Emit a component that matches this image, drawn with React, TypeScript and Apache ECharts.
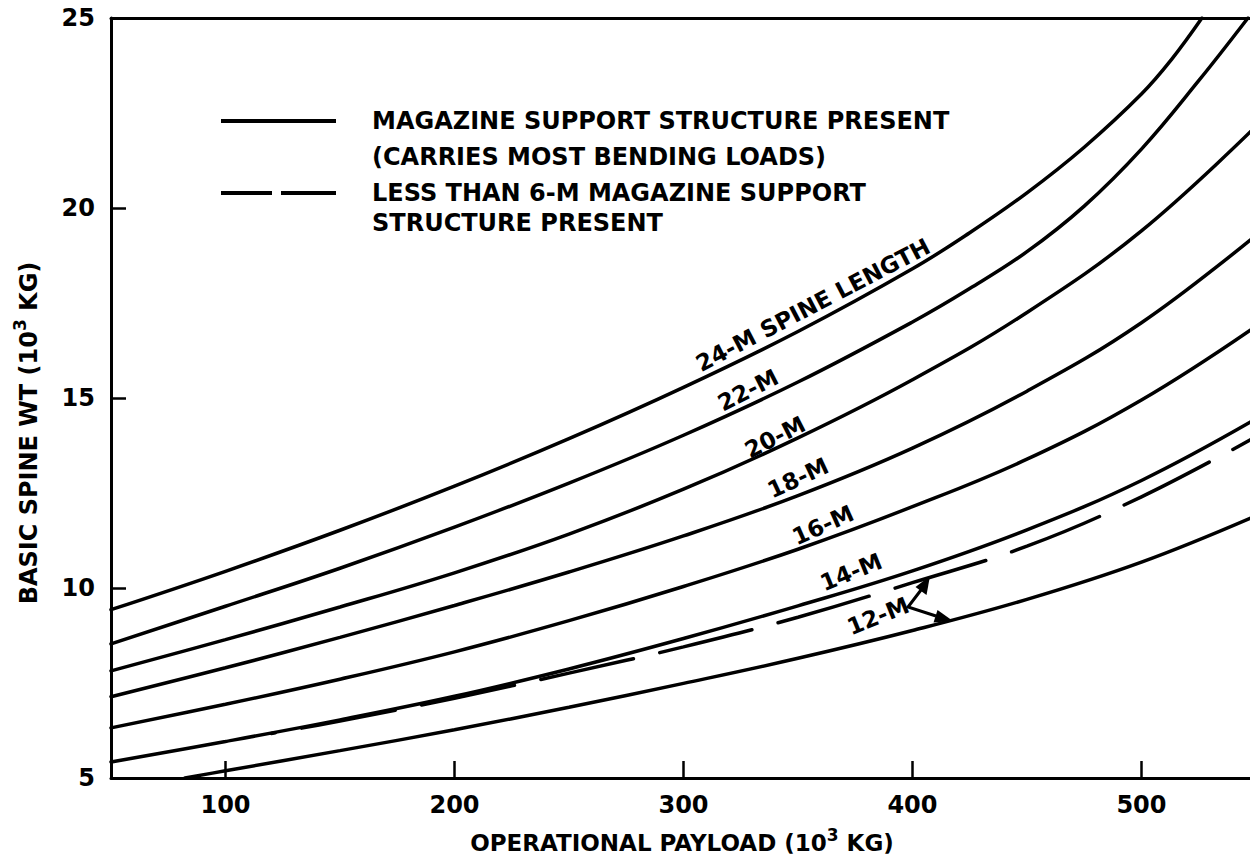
import React, { useEffect, useRef } from "react";
import * as echarts from "echarts";

// Axis ticks
const xTicks = [100, 200, 300, 400, 500];

// Curves: [operational payload (10^3 kg), basic spine wt (10^3 kg)]
const spine24 = [[50, 9.43], [100, 10.44], [150, 11.52], [200, 12.68], [250, 13.93], [300, 15.28], [350, 16.75], [400, 18.4], [425, 19.35], [450, 20.4], [475, 21.6], [500, 23.0], [513, 23.9], [526.4, 25]];
const spine22 = [[50, 8.53], [100, 9.52], [150, 10.52], [200, 11.6], [250, 12.76], [300, 14.02], [350, 15.42], [400, 17.0], [425, 17.88], [450, 18.85], [475, 20.05], [500, 21.55], [525, 23.35], [546.5, 25]];
const spine20 = [[50, 7.82], [100, 8.64], [150, 9.5], [200, 10.4], [250, 11.42], [300, 12.6], [350, 13.95], [400, 15.48], [450, 17.25], [500, 19.4], [550, 22.15]];
const spine18 = [[50, 7.14], [100, 7.9], [150, 8.7], [200, 9.54], [250, 10.42], [300, 11.37], [350, 12.43], [400, 13.68], [450, 15.18], [500, 16.98], [550, 19.28]];
const spine16 = [[50, 6.32], [100, 6.94], [150, 7.6], [200, 8.32], [250, 9.14], [300, 10.04], [350, 11.02], [400, 12.14], [450, 13.39], [500, 14.95], [550, 16.89]];
const spine14 = [[50, 5.42], [100, 5.96], [150, 6.53], [200, 7.15], [250, 7.87], [300, 8.67], [350, 9.53], [400, 10.45], [450, 11.53], [500, 12.83], [550, 14.45]];
const spine12 = [[82.3, 5.0], [100, 5.19], [150, 5.72], [200, 6.27], [250, 6.86], [300, 7.49], [350, 8.15], [400, 8.88], [450, 9.7], [500, 10.68], [550, 11.9]];
const spine12Partial = [[120, 6.17], [150, 6.5], [200, 7.1], [250, 7.76], [300, 8.45], [350, 9.23], [400, 10.14], [450, 11.1], [500, 12.4], [550, 13.98]];

const FONT = '"DejaVu Sans", sans-serif';

function lineSeries(name: string, data: number[][], dashed = false) {
  return {
    name,
    type: "line",
    data,
    smooth: 0.4,
    symbol: "none",
    clip: true,
    silent: true,
    lineStyle: {
      color: "#000",
      width: 3.5,
      type: dashed ? [95, 27] : "solid",
      dashOffset: dashed ? 91 : 0,
      cap: "round",
    },
  };
}

function txt(text: string, x: number, y: number, size: number, angleDeg = 0, align = "center", rich?: any) {
  return {
    type: "text",
    x,
    y,
    rotation: (angleDeg * Math.PI) / 180,
    silent: true,
    style: {
      text,
      fill: "#000",
      fontSize: size,
      fontFamily: FONT,
      fontWeight: "bold",
      align,
      textAlign: align,
      verticalAlign: "middle",
      textVerticalAlign: "middle",
      rich,
    },
  };
}

export default function App() {
  const ref = useRef<HTMLDivElement>(null);

  useEffect(() => {
    if (!ref.current) return;
    const chart = echarts.init(ref.current, null, { renderer: "svg" });

    const axisLine = { show: true, onZero: false, lineStyle: { color: "#000", width: 3 } };
    const supRichX = {
      n: { fontSize: 23, fontFamily: FONT, fontWeight: "bold", lineHeight: 28, verticalAlign: "bottom" },
      s: { fontSize: 17, fontFamily: FONT, fontWeight: "bold", lineHeight: 17, verticalAlign: "top" },
    };
    const supRichY = {
      n: { fontSize: 24, fontFamily: FONT, fontWeight: "bold", lineHeight: 30, verticalAlign: "bottom" },
      s: { fontSize: 17, fontFamily: FONT, fontWeight: "bold", lineHeight: 17, verticalAlign: "top" },
    };

    const option: any = {
      animation: false,
      backgroundColor: "#fff",
      grid: { left: 111, right: 0, top: 18, bottom: 79, containLabel: false },
      xAxis: [
        {
          type: "value",
          min: 50,
          max: 547.4,
          axisLine,
          axisTick: { show: true, inside: true, length: 17, customValues: xTicks, lineStyle: { color: "#000", width: 2.5 } },
          axisLabel: { customValues: xTicks, margin: 15, color: "#000", fontSize: 24, fontFamily: FONT, fontWeight: "bold" },
          splitLine: { show: false },
        },
        {
          type: "value",
          position: "top",
          min: 50,
          max: 547.4,
          axisLine,
          axisTick: { show: false },
          axisLabel: { show: false },
          splitLine: { show: false },
        },
      ],
      yAxis: {
        type: "value",
        min: 5,
        max: 25,
        interval: 5,
        axisLine,
        axisTick: { show: true, inside: true, length: 15, lineStyle: { color: "#000", width: 2.5 } },
        axisLabel: { margin: 16, color: "#000", fontSize: 24, fontFamily: FONT, fontWeight: "bold" },
        splitLine: { show: false },
      },
      series: [
        lineSeries("24-M", spine24),
        lineSeries("22-M", spine22),
        lineSeries("20-M", spine20),
        lineSeries("18-M", spine18),
        lineSeries("16-M", spine16),
        lineSeries("14-M", spine14),
        lineSeries("12-M", spine12),
        lineSeries("12-M partial support", spine12Partial, true),
      ],
      graphic: [
        // legend
        { type: "line", silent: true, shape: { x1: 221, y1: 121, x2: 336, y2: 121 }, style: { stroke: "#000", lineWidth: 4 } },
        { type: "line", silent: true, shape: { x1: 221, y1: 193, x2: 272, y2: 193 }, style: { stroke: "#000", lineWidth: 4 } },
        { type: "line", silent: true, shape: { x1: 281, y1: 193, x2: 336, y2: 193 }, style: { stroke: "#000", lineWidth: 4 } },
        txt("MAGAZINE SUPPORT STRUCTURE PRESENT", 372, 121, 24, 0, "left"),
        txt("(CARRIES MOST BENDING LOADS)", 372, 157, 24, 0, "left"),
        txt("LESS THAN 6-M MAGAZINE SUPPORT", 372, 193, 24, 0, "left"),
        txt("STRUCTURE PRESENT", 372, 223, 24, 0, "left"),
        // curve labels
        txt("24-M SPINE LENGTH", 813, 305, 23, 27.5),
        txt("22-M", 748, 390, 23, 27),
        txt("20-M", 775, 437, 23, 27),
        txt("18-M", 798, 478, 23, 25),
        txt("16-M", 823, 525, 23, 24),
        txt("14-M", 851, 572, 23, 22),
        txt("12-M", 878, 616, 23, 22),
        // arrows from 12-M label
        { type: "polyline", silent: true, shape: { points: [[921, 590], [908, 607], [936, 616]] }, style: { stroke: "#000", lineWidth: 3, fill: null } },
        { type: "polygon", silent: true, shape: { points: [[930, 576], [926.5, 595], [915.5, 587]] }, style: { fill: "#000" } },
        { type: "polygon", silent: true, shape: { points: [[953, 621], [933.5, 622.5], [937.5, 610]] }, style: { fill: "#000" } },
        // axis names
        txt("{n|OPERATIONAL PAYLOAD (10}{s|3}{n| KG)}", 682, 840, 23, 0, "center", supRichX),
        txt("{n|BASIC SPINE WT (10}{s|3}{n| KG)}", 26, 433, 24, 90, "center", supRichY),
      ],
    };

    chart.setOption(option);
    return () => chart.dispose();
  }, []);

  return (
    <div
      ref={ref}
      style={{ position: "fixed", left: 0, top: 0, width: 1250, height: 857, background: "#fff" }}
    />
  );
}
